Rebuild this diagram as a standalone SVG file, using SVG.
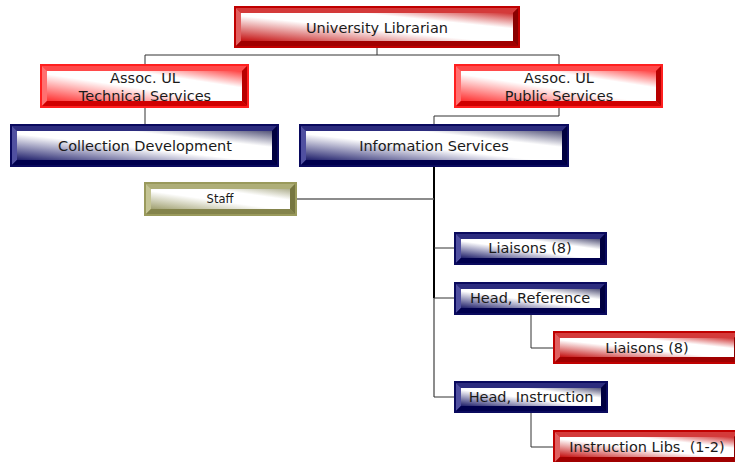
<svg xmlns="http://www.w3.org/2000/svg" width="735" height="462" viewBox="0 0 735 462">
<defs>
<linearGradient id="gR1" x1="0" y1="1" x2="1" y2="0"><stop offset="0" stop-color="#C41010"/><stop offset="0.45" stop-color="#FFFFFF"/><stop offset="0.72" stop-color="#FFFFFF"/><stop offset="1" stop-color="#D03030"/></linearGradient>
<linearGradient id="gR2" x1="0" y1="1" x2="1" y2="0"><stop offset="0" stop-color="#FF3030"/><stop offset="0.45" stop-color="#FFFFFF"/><stop offset="0.72" stop-color="#FFFFFF"/><stop offset="1" stop-color="#FF4040"/></linearGradient>
<linearGradient id="gB" x1="0" y1="1" x2="1" y2="0"><stop offset="0" stop-color="#1E1E6A"/><stop offset="0.45" stop-color="#FFFFFF"/><stop offset="0.72" stop-color="#FFFFFF"/><stop offset="1" stop-color="#55557A"/></linearGradient>
<linearGradient id="gO" x1="0" y1="1" x2="1" y2="0"><stop offset="0" stop-color="#A0A070"/><stop offset="0.45" stop-color="#FFFFFF"/><stop offset="0.72" stop-color="#FFFFFF"/><stop offset="1" stop-color="#B0B090"/></linearGradient>
</defs>
<style>
text{font-family:"DejaVu Sans",Verdana,sans-serif;font-size:14.5px;fill:#1A1A1A;text-anchor:middle;dominant-baseline:central}
.red1 .b{fill:#C00000}.red1 .t{fill:#D43A3A}.red1 .l{fill:#E06060}.red1 .r{fill:#8A0000}.red1 .bt{fill:#A00000}.red1 .f{fill:url(#gR1)}
.red2 .b{fill:#FF2020}.red2 .t{fill:#FF4A4A}.red2 .l{fill:#FF7070}.red2 .r{fill:#B80000}.red2 .bt{fill:#D00000}.red2 .f{fill:url(#gR2)}
.blue .b{fill:#0A0A5E}.blue .t{fill:#2C2C7E}.blue .l{fill:#5050A0}.blue .r{fill:#000040}.blue .bt{fill:#00004E}.blue .f{fill:url(#gB)}
.olive .b{fill:#9A9A5C}.olive .t{fill:#AEAE78}.olive .l{fill:#C4C494}.olive .r{fill:#767640}.olive .bt{fill:#84844C}.olive .f{fill:url(#gO)}
.c{fill:none;stroke:#333;stroke-width:1}
.cg{fill:none;stroke:#666;stroke-width:1.5}
.ck{fill:none;stroke:#000;stroke-width:2}
</style>
<g id="connectors">
<polyline class="c" points="377,48 377,55"/>
<polyline class="c" points="145,64 145,55 559,55 559,64"/>
<polyline class="c" points="145,108 145,124"/>
<polyline class="c" points="559,108 559,116 434,116 434,124"/>
<polyline class="cg" points="434,298 434,397"/>
<polyline class="ck" points="434,167 434,298"/>
<polyline class="cg" points="297,199 434,199"/>
<polyline class="c" points="434,248 454,248"/>
<polyline class="c" points="434,298 454,298"/>
<polyline class="c" points="434,397 454,397"/>
<polyline class="c" points="531,315 531,348 553,348"/>
<polyline class="c" points="531,413 531,447 553,447"/>
</g>
<g id="n-ul" class="red1" transform="translate(234,6)">
<rect class="b" width="286" height="42"/>
<polygon class="t" points="2,2 284,2 279,7 7,7"/><polygon class="l" points="2,2 7,7 7,35 2,40"/>
<polygon class="r" points="284,2 284,40 279,35 279,7"/><polygon class="bt" points="2,40 284,40 279,35 7,35"/>
<rect class="f" x="7" y="7" width="272" height="28"/>
<text x="143" y="22">University Librarian</text>
</g>
<g id="n-tech" class="red2" transform="translate(40,64)">
<rect class="b" width="209" height="44"/>
<polygon class="t" points="2,2 207,2 202,7 7,7"/><polygon class="l" points="2,2 7,7 7,37 2,42"/>
<polygon class="r" points="207,2 207,42 202,37 202,7"/><polygon class="bt" points="2,42 207,42 202,37 7,37"/>
<rect class="f" x="7" y="7" width="195" height="30"/>
<text x="105" y="14">Assoc. UL</text><text x="105" y="32">Technical Services</text>
</g>
<g id="n-pub" class="red2" transform="translate(454,64)">
<rect class="b" width="209" height="44"/>
<polygon class="t" points="2,2 207,2 202,7 7,7"/><polygon class="l" points="2,2 7,7 7,37 2,42"/>
<polygon class="r" points="207,2 207,42 202,37 202,7"/><polygon class="bt" points="2,42 207,42 202,37 7,37"/>
<rect class="f" x="7" y="7" width="195" height="30"/>
<text x="105" y="14">Assoc. UL</text><text x="105" y="32">Public Services</text>
</g>
<g id="n-coll" class="blue" transform="translate(10,124)">
<rect class="b" width="269" height="43"/>
<polygon class="t" points="2,2 267,2 262,7 7,7"/><polygon class="l" points="2,2 7,7 7,36 2,41"/>
<polygon class="r" points="267,2 267,41 262,36 262,7"/><polygon class="bt" points="2,41 267,41 262,36 7,36"/>
<rect class="f" x="7" y="7" width="255" height="29"/>
<text x="135" y="22">Collection Development</text>
</g>
<g id="n-info" class="blue" transform="translate(299,124)">
<rect class="b" width="270" height="43"/>
<polygon class="t" points="2,2 268,2 263,7 7,7"/><polygon class="l" points="2,2 7,7 7,36 2,41"/>
<polygon class="r" points="268,2 268,41 263,36 263,7"/><polygon class="bt" points="2,41 268,41 263,36 7,36"/>
<rect class="f" x="7" y="7" width="256" height="29"/>
<text x="135" y="22">Information Services</text>
</g>
<g id="n-staff" class="olive" transform="translate(144,182)">
<rect class="b" width="153" height="34"/>
<polygon class="t" points="2,2 151,2 146,7 7,7"/><polygon class="l" points="2,2 7,7 7,27 2,32"/>
<polygon class="r" points="151,2 151,32 146,27 146,7"/><polygon class="bt" points="2,32 151,32 146,27 7,27"/>
<rect class="f" x="7" y="7" width="139" height="20"/>
<text x="76" y="17" style="font-size:11.5px">Staff</text>
</g>
<g id="n-liaisons-b" class="blue" transform="translate(454,232)">
<rect class="b" width="153" height="33"/>
<polygon class="t" points="2,2 151,2 146,7 7,7"/><polygon class="l" points="2,2 7,7 7,26 2,31"/>
<polygon class="r" points="151,2 151,31 146,26 146,7"/><polygon class="bt" points="2,31 151,31 146,26 7,26"/>
<rect class="f" x="7" y="7" width="139" height="19"/>
<text x="76" y="16">Liaisons (8)</text>
</g>
<g id="n-headref" class="blue" transform="translate(454,282)">
<rect class="b" width="153" height="33"/>
<polygon class="t" points="2,2 151,2 146,7 7,7"/><polygon class="l" points="2,2 7,7 7,26 2,31"/>
<polygon class="r" points="151,2 151,31 146,26 146,7"/><polygon class="bt" points="2,31 151,31 146,26 7,26"/>
<rect class="f" x="7" y="7" width="139" height="19"/>
<text x="76" y="16">Head, Reference</text>
</g>
<g id="n-liaisons-r" class="red1" transform="translate(553,331)">
<rect class="b" width="188" height="33"/>
<polygon class="t" points="2,2 186,2 181,7 7,7"/><polygon class="l" points="2,2 7,7 7,26 2,31"/>
<polygon class="r" points="186,2 186,31 181,26 181,7"/><polygon class="bt" points="2,31 186,31 181,26 7,26"/>
<rect class="f" x="7" y="7" width="174" height="19"/>
<text x="94" y="17">Liaisons (8)</text>
</g>
<g id="n-headins" class="blue" transform="translate(454,381)">
<rect class="b" width="154" height="32"/>
<polygon class="t" points="2,2 152,2 147,7 7,7"/><polygon class="l" points="2,2 7,7 7,25 2,30"/>
<polygon class="r" points="152,2 152,30 147,25 147,7"/><polygon class="bt" points="2,30 152,30 147,25 7,25"/>
<rect class="f" x="7" y="7" width="140" height="18"/>
<text x="77" y="16">Head, Instruction</text>
</g>
<g id="n-inslibs" class="red1" transform="translate(553,430)">
<rect class="b" width="188" height="34"/>
<polygon class="t" points="2,2 186,2 181,7 7,7"/><polygon class="l" points="2,2 7,7 7,27 2,32"/>
<polygon class="r" points="186,2 186,32 181,27 181,7"/><polygon class="bt" points="2,32 186,32 181,27 7,27"/>
<rect class="f" x="7" y="7" width="174" height="20"/>
<text x="94" y="17">Instruction Libs. (1-2)</text>
</g>
</svg>
